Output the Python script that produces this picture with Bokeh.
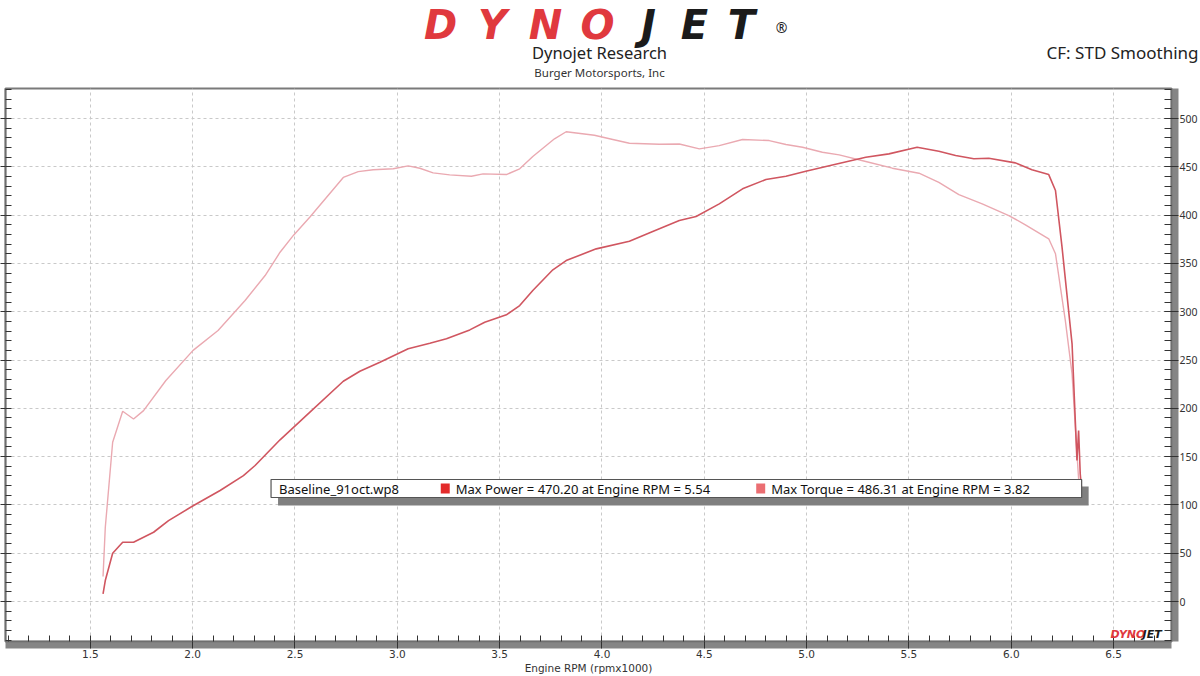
from bokeh.plotting import figure
from bokeh.layouts import column, row
from bokeh.models import (Range1d, LinearAxis, SingleIntervalTicker, PrintfTickFormatter,
                          CustomJSTickFormatter, Label, BoxAnnotation)
from bokeh.core.properties import value
from bokeh.embed import file_html
from bokeh.resources import INLINE

# ---------------- data ----------------
rpm_power = [1.562, 1.573, 1.609, 1.658, 1.711, 1.760, 1.809, 1.882, 1.996, 2.134,
             2.248, 2.305, 2.427, 2.573, 2.736, 2.817, 2.915, 3.053, 3.159, 3.240,
             3.354, 3.427, 3.533, 3.598, 3.662, 3.760, 3.825, 3.972, 4.134, 4.248,
             4.378, 4.460, 4.573, 4.687, 4.801, 4.899, 4.996, 5.126, 5.289, 5.402,
             5.540, 5.646, 5.728, 5.817, 5.890, 6.020, 6.101, 6.183, 6.216, 6.248,
             6.297, 6.321, 6.329, 6.337, 6.344]
power_hp = [8.0, 21.7, 50.0, 61.4, 61.4, 66.6, 71.7, 83.8, 98.3, 114.9,
            130.4, 140.8, 167.4, 196.0, 228.0, 238.4, 247.7, 261.6, 267.4, 272.0,
            281.2, 289.1, 296.8, 306.4, 322.0, 343.4, 353.0, 365.1, 373.0, 383.0,
            394.4, 398.6, 411.7, 427.2, 436.9, 440.3, 445.5, 452.0, 460.0, 463.4,
            470.2, 466.2, 461.7, 458.3, 458.9, 454.1, 446.9, 442.0, 425.5, 366.8,
            266.8, 146.0, 177.0, 132.0, 115.0]

rpm_torque = [1.562, 1.573, 1.609, 1.658, 1.711, 1.760, 1.869, 2.002, 2.124, 2.256,
              2.354, 2.427, 2.492, 2.573, 2.736, 2.809, 2.882, 2.980, 3.053, 3.110,
              3.175, 3.256, 3.362, 3.419, 3.533, 3.598, 3.662, 3.768, 3.825, 3.963,
              4.053, 4.134, 4.280, 4.378, 4.476, 4.573, 4.687, 4.817, 4.899, 4.980,
              5.077, 5.159, 5.289, 5.419, 5.549, 5.646, 5.744, 5.858, 5.988, 6.069,
              6.183, 6.216, 6.264, 6.297, 6.321, 6.329, 6.334]
torque_lbft = [25.9, 76.6, 164.9, 197.0, 189.0, 197.6, 228.8, 260.0, 280.5, 311.6,
               337.5, 361.6, 379.0, 398.0, 439.0, 445.0, 447.0, 448.0, 451.0, 448.5,
               443.8, 441.7, 440.3, 442.7, 442.0, 448.0, 460.7, 479.0, 486.3, 482.7,
               478.3, 474.4, 473.4, 473.6, 468.6, 472.0, 478.3, 477.2, 473.1, 470.3,
               465.1, 462.4, 455.5, 448.6, 443.4, 434.0, 421.3, 411.7, 399.6, 390.0,
               375.5, 360.0, 291.0, 235.7, 152.9, 127.0, 110.0]

run_name = "Baseline_91oct.wp8"
power_label = "Max Power = 470.20 at Engine RPM = 5.54"
torque_label = "Max Torque = 486.31 at Engine RPM = 3.82"
title_main = "Dynojet Research"
title_sub = "Burger Motorsports, Inc"
cf_text = "CF: STD Smoothing"
x_title = "Engine RPM (rpmx1000)"
logo_letters = ["D", "Y", "N", "O", "J", "E", "T"]

# ---------------- layout ----------------
W = 1200
HEAD_H = 80
MAIN_H = 596
PX_L, PX_R, PY_T, PY_B = 5, 1173, 88, 641      # frame edges, page px
X_START, X_END = 1.0854, 6.7829
Y_START, Y_END = -41.4, 531.1

POWER_COLOR = "#d05660"
TORQUE_COLOR = "#eaa9b1"
FONT = "Noto Sans"
AXFONT = "DejaVu Sans"
LOGO_RED = "#e0393e"
LOGO_BLACK = "#1b1b1b"
SHADOW = "#858585"
AXIS_BG = "background_fill_color" in LinearAxis.properties()


def dx(px):
    return X_START + (px - PX_L) * (X_END - X_START) / (PX_R - PX_L)


def dy(py):
    return Y_END - (py - PY_T) * (Y_END - Y_START) / (PY_B - PY_T)


# ---------------- header ----------------
head = figure(width=W, height=HEAD_H, x_range=Range1d(0, W), y_range=Range1d(HEAD_H, 0),
              output_backend="svg", toolbar_location=None, min_border=0,
              x_axis_type=None, y_axis_type=None)
head.outline_line_color = None
head.background_fill_color = "white"
head.border_fill_color = "white"

logo_x = [440, 492, 545, 597, 648, 694, 741]
logo_c = [LOGO_RED] * 4 + [LOGO_BLACK] * 3
head.text(x=logo_x, y=[24] * 7, text=logo_letters, text_color=logo_c,
          text_font=value("DejaVu Sans"), text_font_style="bold italic", text_font_size="40px",
          text_align="center", text_baseline="middle")
head.text(x=[781], y=[27], text=["®"], text_color="#222222", text_font=value(FONT),
          text_font_size="14px", text_align="center", text_baseline="middle")
head.text(x=[599], y=[52], text=[title_main], text_color="#222222", text_font=value(FONT),
          text_font_size="16.5px", text_align="center", text_baseline="middle")
head.text(x=[599], y=[72], text=[title_sub], text_color="#333333", text_font=value(FONT),
          text_font_size="11.5px", text_align="center", text_baseline="middle")
head.text(x=[1198], y=[52], text=[cf_text], text_color="#222222", text_font=value(FONT),
          text_font_size="17px", text_align="right", text_baseline="middle")

# ---------------- main chart ----------------
p = figure(width=W, height=MAIN_H, x_range=Range1d(X_START, X_END), y_range=Range1d(Y_START, Y_END),
           output_backend="svg", toolbar_location=None,
           min_border_left=PX_L, min_border_right=W - PX_R,
           min_border_top=PY_T - HEAD_H, min_border_bottom=HEAD_H + MAIN_H - PY_B)
p.background_fill_color = "white"
p.border_fill_color = "white"
p.outline_line_color = "#7a7a7a"
p.outline_line_width = 2

x_ticker = SingleIntervalTicker(interval=0.5, num_minor_ticks=5)
y_ticker = SingleIntervalTicker(interval=50, num_minor_ticks=5)
blank = CustomJSTickFormatter(code="return ''")

# bottom axis: ticks + line (with shadow), then labels + title
xa = p.xaxis[0]
xa.ticker = x_ticker
xa.formatter = blank
xa.major_label_text_font_size = "1px"
xa.major_label_standoff = 0
xa.major_tick_in = 0
xa.major_tick_out = 7
xa.minor_tick_in = 6
xa.minor_tick_out = 0
xa.axis_line_color = "#6e6e6e"
xa.axis_line_width = 1.5
xa.major_tick_line_color = "#333333"
xa.minor_tick_line_color = "#333333"
if AXIS_BG:
    xa.background_fill_color = SHADOW

xb = LinearAxis(ticker=x_ticker, formatter=PrintfTickFormatter(format="%.1f"),
                axis_line_color=None, major_tick_line_color=None, minor_tick_line_color=None,
                major_tick_in=0, major_tick_out=0, minor_tick_in=0, minor_tick_out=0,
                major_label_text_font=AXFONT, major_label_text_font_size="10.5px",
                major_label_text_color="#333333", major_label_standoff=1,
                axis_label=x_title, axis_label_text_font=AXFONT, axis_label_text_font_size="10.5px",
                axis_label_text_font_style="normal", axis_label_text_color="#333333",
                axis_label_standoff=1)
p.add_layout(xb, "below")

# left axis: ticks only (its labels are outside the picture)
ya = p.yaxis[0]
ya.ticker = y_ticker
ya.formatter = blank
ya.major_tick_in = 0
ya.major_tick_out = 5
ya.minor_tick_in = 6
ya.minor_tick_out = 0
ya.major_label_standoff = 0
ya.axis_line_color = "#6e6e6e"
ya.axis_line_width = 1.5
ya.major_tick_line_color = "#333333"
ya.minor_tick_line_color = "#333333"

# right axis: ticks + line (with shadow), then labels
ra = LinearAxis(ticker=y_ticker, formatter=blank,
                major_tick_in=7, major_tick_out=7, minor_tick_in=7, minor_tick_out=0,
                major_label_standoff=0,
                axis_line_color="#6e6e6e", axis_line_width=1.5,
                major_tick_line_color="#333333", minor_tick_line_color="#333333")
if AXIS_BG:
    ra.background_fill_color = SHADOW
p.add_layout(ra, "right")
rb = LinearAxis(ticker=y_ticker, axis_line_color=None, major_tick_line_color=None,
                minor_tick_line_color=None, major_tick_in=0, major_tick_out=0,
                minor_tick_in=0, minor_tick_out=0,
                major_label_text_font=FONT, major_label_text_font_size="10.5px",
                major_label_text_color="#333333", major_label_standoff=1)
p.add_layout(rb, "right")

p.xgrid.grid_line_color = "#c9c9c9"
p.xgrid.grid_line_dash = "3 3"
p.ygrid.grid_line_color = "#c9c9c9"
p.ygrid.grid_line_dash = "3 3"

# curves
p.line(rpm_torque, torque_lbft, line_color=TORQUE_COLOR, line_width=1.4)
p.line(rpm_power, power_hp, line_color=POWER_COLOR, line_width=1.6)

# small logo bottom right (inside the frame)
p.add_layout(Label(x=dx(1112), y=dy(634), text="DYNO", text_font="DejaVu Sans",
                   text_font_style="bold italic", text_font_size="11px", text_color=LOGO_RED,
                   text_baseline="middle", text_align="left"))
p.add_layout(Label(x=dx(1144), y=dy(634), text="JET", text_font="DejaVu Sans",
                   text_font_style="bold italic", text_font_size="11px", text_color=LOGO_BLACK,
                   text_baseline="middle", text_align="left"))

# legend box
p.add_layout(BoxAnnotation(left=dx(278), right=dx(1090), top=dy(486), bottom=dy(505),
                           fill_color="#808080", fill_alpha=1, line_alpha=0))
p.add_layout(BoxAnnotation(left=dx(271), right=dx(1083), top=dy(479), bottom=dy(497),
                           fill_color="white", fill_alpha=1, line_color="#555555",
                           line_alpha=1, line_width=1.2))
p.add_layout(Label(x=dx(279), y=dy(488), text=run_name, text_font=FONT, text_font_size="13px",
                   text_color="#111111", text_baseline="middle", text_align="left"))
p.add_layout(BoxAnnotation(left=dx(441), right=dx(450), top=dy(483), bottom=dy(493),
                           fill_color="#e32b2b", fill_alpha=1, line_alpha=0))
p.add_layout(Label(x=dx(456), y=dy(488), text=power_label, text_font=FONT, text_font_size="13px",
                   text_color="#111111", text_baseline="middle", text_align="left"))
p.add_layout(BoxAnnotation(left=dx(757), right=dx(766), top=dy(483), bottom=dy(493),
                           fill_color="#eb6e72", fill_alpha=1, line_alpha=0))
p.add_layout(Label(x=dx(772), y=dy(488), text=torque_label, text_font=FONT, text_font_size="13px",
                   text_color="#111111", text_baseline="middle", text_align="left"))

layout = column(row(head), p, spacing=0)
open("out.html", "w").write(file_html(layout, INLINE))
